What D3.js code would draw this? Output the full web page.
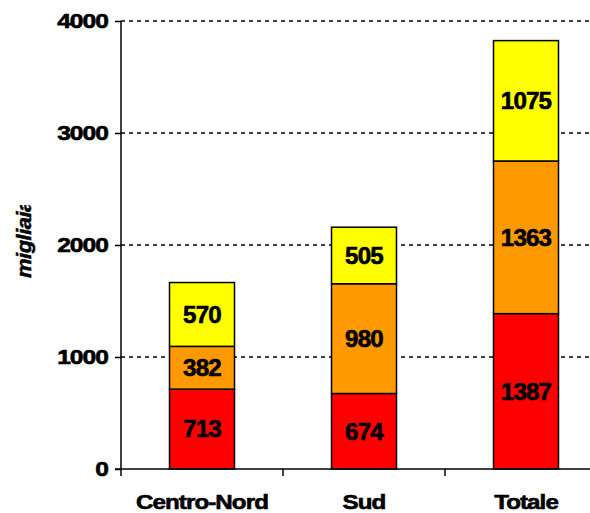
<!DOCTYPE html>
<html><head><meta charset="utf-8">
<script src="https://cdn.jsdelivr.net/npm/d3@7"></script>
<style>html,body{margin:0;padding:0;background:#fff;}svg{display:block;}</style>
</head><body>
<script>
const categories = ["Centro-Nord", "Sud", "Totale"];
const seriesNames = ["s1", "s2", "s3"];
const s1 = [713, 674, 1387];
const s2 = [382, 980, 1363];
const s3 = [570, 505, 1075];
const yTicks = [0, 1000, 2000, 3000, 4000];
const colors = ["#FF0000", "#FF9900", "#FFFF00"];
const yLabel = "migliaia";

const W = 590, H = 513;
const svg = d3.select("body").append("svg").attr("width", W).attr("height", H);
const font = "'Liberation Sans', Arial, sans-serif";

const x = d3.scaleBand().domain(categories).range([121, 607]).paddingInner(0).paddingOuter(0);
const y = d3.scaleLinear().domain([0, 4000]).range([469, 21]);
const barW = 65;

// gridlines
svg.append("g").selectAll("line").data(yTicks.filter(d => d > 0)).join("line")
  .attr("x1", 121).attr("x2", W).attr("y1", d => y(d)).attr("y2", d => y(d))
  .attr("stroke", "#000").attr("stroke-width", 1.5).attr("stroke-dasharray", "4,4");

// stacked data
const table = categories.map((c, i) => ({cat: c, s1: s1[i], s2: s2[i], s3: s3[i]}));
const stack = d3.stack().keys(seriesNames)(table);

const gBars = svg.append("g");
stack.forEach((layer, li) => {
  layer.forEach(seg => {
    const cx = x(seg.data.cat) + x.bandwidth() / 2;
    gBars.append("rect")
      .attr("x", cx - barW / 2).attr("width", barW)
      .attr("y", y(seg[1])).attr("height", y(seg[0]) - y(seg[1]))
      .attr("fill", colors[li]).attr("stroke", "#000").attr("stroke-width", 1.5);
  });
});
stack.forEach((layer, li) => {
  layer.forEach(seg => {
    const cx = x(seg.data.cat) + x.bandwidth() / 2;
    const cy = (y(seg[0]) + y(seg[1])) / 2;
    gBars.append("text")
      .attr("transform", `translate(${cx},${cy}) scale(1.05,1)`)
      .attr("text-anchor", "middle").attr("dy", "0.36em")
      .attr("font-family", font).attr("font-weight", "bold").attr("font-size", 23)
      .attr("letter-spacing", -0.8).attr("stroke", "#000").attr("stroke-width", 0.6)
      .text(seg[1] - seg[0]);
  });
});

// y axis
const yAxis = d3.axisLeft(y).tickValues(yTicks).tickSize(6).tickPadding(7).tickFormat(d3.format("d"));
const gy = svg.append("g").attr("transform", "translate(121,0)").call(yAxis);
gy.select(".domain").attr("stroke", "#000").attr("stroke-width", 1.5).attr("d", `M0,${y(4000)}V${y(0)}`);
gy.selectAll(".tick line").attr("stroke", "#000").attr("stroke-width", 1.5);
gy.selectAll(".tick text").each(function() {
  const t = d3.select(this);
  const xx = +t.attr("x");
  t.attr("x", null).attr("transform", `translate(${xx},0) scale(1.2,1)`);
}).attr("font-family", font).attr("font-weight", "bold").attr("font-size", 20.5).attr("fill", "#000")
  .attr("letter-spacing", -0.8).attr("stroke", "#000").attr("stroke-width", 0.6);

// x axis
const gx = svg.append("g").attr("transform", `translate(0,${y(0)})`);
gx.append("line").attr("x1", 115).attr("x2", W).attr("y1", 0).attr("y2", 0).attr("stroke", "#000").attr("stroke-width", 1.5);
const bounds = categories.map(c => x(c));
gx.selectAll(".bt").data(bounds).join("line")
  .attr("x1", d => d).attr("x2", d => d).attr("y1", 0).attr("y2", 7)
  .attr("stroke", "#000").attr("stroke-width", 1.5);
gx.selectAll(".cl").data(categories).join("text")
  .attr("transform", d => `translate(${x(d) + x.bandwidth() / 2},40) scale(1.15,1)`)
  .attr("text-anchor", "middle")
  .attr("font-family", font).attr("font-weight", "bold").attr("font-size", 21).attr("letter-spacing", -0.8)
  .attr("stroke", "#000").attr("stroke-width", 0.6)
  .text(d => d);

// y label, clipped
svg.append("clipPath").attr("id", "yclip").append("rect").attr("x", 0).attr("y", 205).attr("width", 60).attr("height", 200);
svg.append("g").attr("clip-path", "url(#yclip)")
  .append("text")
  .attr("transform", "translate(31,278) rotate(-90) scale(1.05,1)")
  .attr("text-anchor", "start")
  .attr("font-family", font).attr("font-weight", "bold").attr("font-style", "italic").attr("font-size", 21)
  .attr("letter-spacing", -0.5)
  .attr("stroke", "#000").attr("stroke-width", 0.5)
  .text(yLabel);
</script>
</body></html>
